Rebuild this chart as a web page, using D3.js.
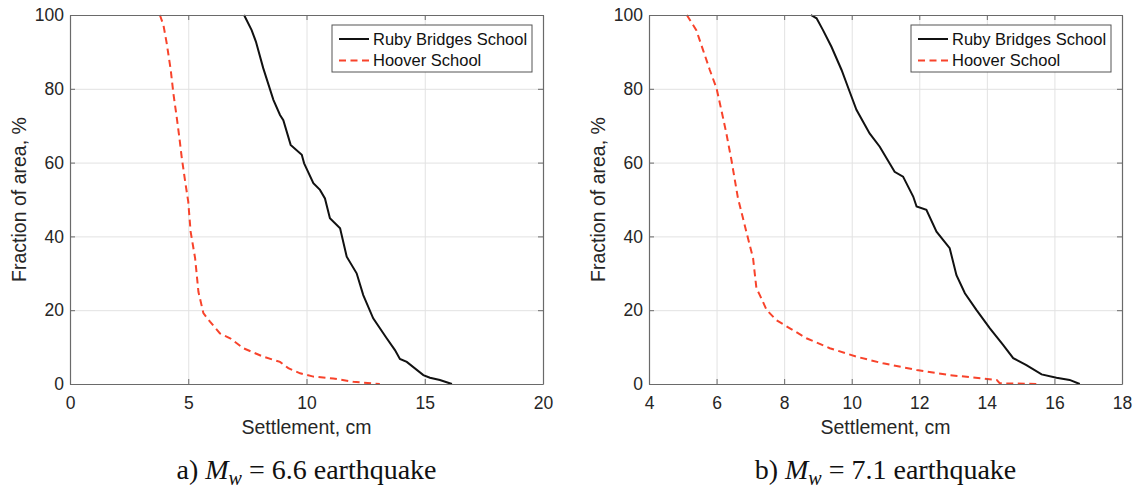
<!DOCTYPE html>
<html>
<head>
<meta charset="utf-8">
<script src="https://cdnjs.cloudflare.com/ajax/libs/d3/7.8.5/d3.min.js"></script>
<style>
body { margin: 0; background: #fff; }
svg text { font-family: "Liberation Sans", Arial, sans-serif; }
svg text.caption { font-family: "Liberation Serif", "Times New Roman", serif; }
</style>
</head>
<body>
<div id="chart-area"></div>
<script>

// tick values
var fracTicks = [0, 20, 40, 60, 80, 100];
var settleTicksA = [0, 5, 10, 15, 20];
var settleTicksB = [4, 6, 8, 10, 12, 14, 16, 18];
var seriesNames = ["Ruby Bridges School", "Hoover School"];

// a) Mw = 6.6
var settleRubyA = [7.36, 7.68, 7.86, 8.17, 8.6, 8.88, 9.02, 9.33, 9.8, 9.9, 10.29, 10.57, 10.78, 10.99, 11.42, 11.7, 12.12, 12.4, 12.82, 13.39, 13.74, 13.95, 14.24, 14.94, 15.22, 15.64, 16.15];
var fracRubyA   = [100, 95.9, 92.8, 85.6, 77, 72.9, 71.5, 64.8, 62.1, 59.8, 54.4, 52.6, 50.3, 44.9, 42.2, 34.5, 30, 24.1, 17.8, 12.4, 9.2, 6.8, 6.0, 2.4, 1.7, 1.1, 0];
var settleHooverA = [3.8, 3.95, 4.09, 4.26, 4.37, 4.51, 4.62, 4.72, 4.86, 5.0, 5.1, 5.29, 5.43, 5.64, 5.92, 6.34, 6.77, 7.33, 8.17, 8.88, 9.23, 9.73, 10.29, 11.13, 11.98, 13.1];
var fracHooverA   = [100, 97.3, 92.3, 85.1, 78.8, 72.4, 67, 61.6, 55.3, 49.4, 41.3, 34.1, 25, 19.2, 16.9, 13.7, 12.4, 9.7, 7.4, 6.0, 4.3, 2.9, 2.0, 1.5, 0.6, 0];

// b) Mw = 7.1
var settleRubyB = [8.79, 8.96, 9.15, 9.4, 9.7, 9.94, 10.14, 10.53, 10.83, 11.27, 11.52, 11.82, 11.92, 12.21, 12.51, 12.9, 13.1, 13.35, 13.69, 14.09, 14.48, 14.78, 15.17, 15.62, 16.06, 16.45, 16.75];
var fracRubyB   = [100, 99.1, 95.9, 91.4, 85.1, 79.2, 74.3, 67.9, 64.3, 57.5, 56.2, 50.8, 48.1, 47.2, 41.3, 36.8, 29.5, 24.6, 20.1, 15.1, 10.6, 7.0, 5.1, 2.6, 1.7, 1.1, 0];
var settleHooverB = [5.12, 5.4, 5.6, 5.8, 6.0, 6.14, 6.29, 6.44, 6.63, 6.88, 7.08, 7.18, 7.28, 7.48, 7.77, 8.17, 8.66, 9.35, 10.14, 10.93, 11.92, 12.9, 13.89, 14.29, 14.38, 15.47];
var fracHooverB   = [100, 95.9, 90.5, 85.1, 80.1, 74.3, 67.9, 60.7, 50.5, 41.3, 34.1, 25.9, 24.1, 20.1, 17.3, 15.1, 12.4, 9.7, 7.4, 5.6, 3.8, 2.4, 1.5, 1.1, 0.2, 0];

var width = 473;
var height = 369;
var marginTop = 15;
var rubyColor = "#111";
var hooverColor = "#f8432b";

var svg = d3.select("#chart-area")
    .append("svg")
    .attr("width", 1137)
    .attr("height", 489);

var panels = [
    {left: 70, domain: [0, 20], ticks: settleTicksA, label: "a)", mag: "6.6",
     ruby: d3.zip(settleRubyA, fracRubyA), hoover: d3.zip(settleHooverA, fracHooverA)},
    {left: 649, domain: [4, 18], ticks: settleTicksB, label: "b)", mag: "7.1",
     ruby: d3.zip(settleRubyB, fracRubyB), hoover: d3.zip(settleHooverB, fracHooverB)}
];

panels.forEach(function(p){
    var g = svg.append("g")
        .attr("transform", "translate(" + p.left + "," + marginTop + ")");

    var x = d3.scaleLinear().domain(p.domain).range([0, width]);
    var y = d3.scaleLinear().domain([0, 100]).range([height, 0]);

    // grid lines
    g.append("g")
        .attr("transform", "translate(0," + height + ")")
        .call(d3.axisBottom(x).tickValues(p.ticks).tickSize(-height).tickFormat(""))
        .call(function(s){
            s.select(".domain").remove();
            s.selectAll("line").attr("stroke", "#e2e2e2");
        });
    g.append("g")
        .call(d3.axisLeft(y).tickValues(fracTicks).tickSize(-width).tickFormat(""))
        .call(function(s){
            s.select(".domain").remove();
            s.selectAll("line").attr("stroke", "#e2e2e2");
        });

    var line = d3.line()
        .x(function(d){ return x(d[0]); })
        .y(function(d){ return y(d[1]); });

    g.append("path")
        .datum(p.hoover)
        .attr("d", line)
        .attr("fill", "none")
        .attr("stroke", hooverColor)
        .attr("stroke-width", 2)
        .attr("stroke-dasharray", "7,4.5");

    g.append("path")
        .datum(p.ruby)
        .attr("d", line)
        .attr("fill", "none")
        .attr("stroke", rubyColor)
        .attr("stroke-width", 2);

    // axes, ticks pointing inward on all four sides
    var axes = [
        {call: d3.axisBottom(x).tickValues(p.ticks).tickPadding(12.5), tr: "translate(0," + height + ")"},
        {call: d3.axisTop(x).tickValues(p.ticks).tickFormat(""), tr: null},
        {call: d3.axisLeft(y).tickValues(fracTicks).tickPadding(6), tr: null},
        {call: d3.axisRight(y).tickValues(fracTicks).tickFormat(""), tr: "translate(" + width + ",0)"}
    ];
    axes.forEach(function(a){
        var ag = g.append("g")
            .call(a.call.tickSize(-5).tickSizeOuter(0));
        if (a.tr) ag.attr("transform", a.tr);
        ag.select(".domain").attr("stroke", "#6a6a6a").attr("stroke-width", 1.2);
        ag.selectAll(".tick line").attr("stroke", "#6a6a6a");
        ag.selectAll("text")
            .attr("fill", "#262626")
            .attr("font-size", "17.5px")
            .style("font-family", "'Liberation Sans', Arial, sans-serif");
    });

    g.append("text")
        .attr("x", width / 2)
        .attr("y", 419)
        .attr("text-anchor", "middle")
        .attr("font-size", "19.5px")
        .attr("fill", "#262626")
        .text("Settlement, cm");

    g.append("text")
        .attr("transform", "translate(-44," + (height / 2) + ") rotate(-90)")
        .attr("text-anchor", "middle")
        .attr("font-size", "19.5px")
        .attr("fill", "#262626")
        .text("Fraction of area, %");

    // legend
    var lg = g.append("g").attr("transform", "translate(262,10)");
    lg.append("rect")
        .attr("width", 200)
        .attr("height", 47)
        .attr("fill", "#fff")
        .attr("stroke", "#555")
        .attr("stroke-width", 1);
    seriesNames.forEach(function(name, i){
        lg.append("line")
            .attr("x1", 7).attr("x2", 37)
            .attr("y1", 14 + i * 21.5).attr("y2", 14 + i * 21.5)
            .attr("stroke", i == 0 ? rubyColor : hooverColor)
            .attr("stroke-width", 2)
            .attr("stroke-dasharray", i == 0 ? null : "7,4.5");
        lg.append("text")
            .attr("x", 41)
            .attr("y", 19.8 + i * 21.5)
            .attr("font-size", "16.5px")
            .attr("fill", "#111")
            .text(name);
    });

    // caption
    var cap = g.append("text")
        .attr("class", "caption")
        .attr("x", width / 2)
        .attr("y", 464)
        .attr("text-anchor", "middle")
        .attr("font-size", "28px")
        .attr("fill", "#111");
    cap.append("tspan").text(p.label + " ");
    cap.append("tspan").attr("font-style", "italic").text("M");
    cap.append("tspan").attr("font-style", "italic").attr("font-size", "20px").attr("dy", 6).text("w");
    cap.append("tspan").attr("dy", -6).text(" = " + p.mag + " earthquake");
});

</script>
</body>
</html>
